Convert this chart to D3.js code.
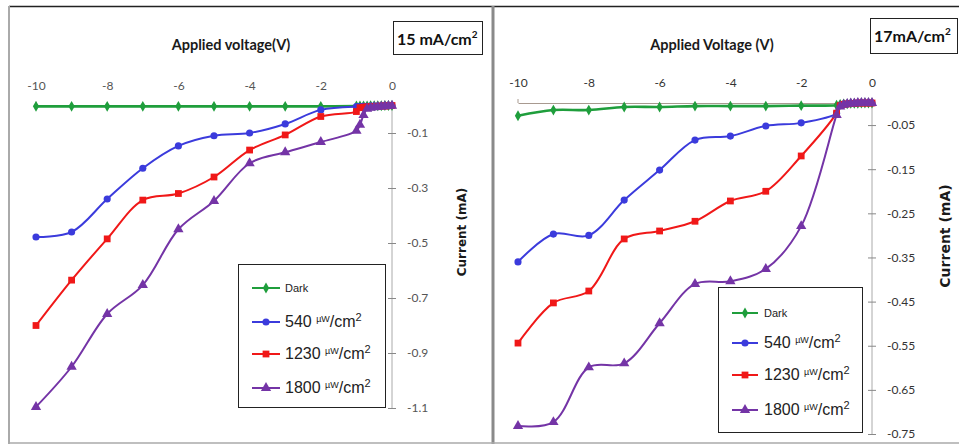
<!DOCTYPE html>
<html><head><meta charset="utf-8">
<script src="https://cdn.jsdelivr.net/npm/d3@7"></script>
<style>body{margin:0;background:#fff} svg{display:block}</style>
</head><body><svg id="c" width="959" height="444"></svg>
<script>
// ---------- data ----------
const voltage = [-10,-9,-8,-7,-6,-5,-4,-3,-2,-1,-0.9,-0.8,-0.7,-0.6,-0.5,-0.4,-0.3,-0.2,-0.1,0];
const seriesNames = ["Dark","540","1230","1800"];
const xTicks = [-10,-8,-6,-4,-2,0];

// panel A : 15 mA/cm2
const darkA   = [-0.003,-0.003,-0.003,-0.003,-0.003,-0.003,-0.003,-0.003,-0.003,-0.002,-0.002,-0.002,-0.002,-0.001,-0.001,-0.001,-0.001,0,0,0];
const p540A   = [-0.478,-0.46,-0.34,-0.228,-0.147,-0.11,-0.10,-0.067,-0.016,-0.004,-0.004,-0.003,-0.003,-0.002,-0.002,-0.002,-0.001,-0.001,0,0];
const p1230A  = [-0.80,-0.635,-0.485,-0.344,-0.32,-0.26,-0.162,-0.107,-0.04,-0.022,-0.008,-0.006,-0.005,-0.004,-0.004,-0.003,-0.002,-0.002,-0.001,0];
const p1800A  = [-1.096,-0.95,-0.758,-0.653,-0.45,-0.347,-0.21,-0.17,-0.133,-0.092,-0.07,-0.035,-0.012,-0.008,-0.006,-0.005,-0.004,-0.003,-0.002,-0.001];
const yTicksA = [-0.1,-0.3,-0.5,-0.7,-0.9,-1.1];

// panel B : 17 mA/cm2
const darkB   = [-0.029,-0.016,-0.016,-0.009,-0.009,-0.007,-0.007,-0.007,-0.006,-0.005,-0.003,-0.002,-0.002,-0.001,-0.001,-0.001,0,0,0,0];
const p540B   = [-0.36,-0.297,-0.30,-0.22,-0.152,-0.084,-0.075,-0.052,-0.045,-0.023,-0.006,-0.003,-0.002,-0.001,-0.001,0,0,0,0,0];
const p1230B  = [-0.544,-0.453,-0.426,-0.308,-0.29,-0.268,-0.222,-0.20,-0.12,-0.023,-0.006,-0.003,-0.002,-0.001,-0.001,0,0,0,0,0];
const p1800B  = [-0.732,-0.723,-0.599,-0.59,-0.499,-0.41,-0.404,-0.376,-0.279,-0.027,-0.008,-0.004,-0.002,-0.001,-0.001,0,0,0,0,0];
const yTicksB = [-0.05,-0.15,-0.25,-0.35,-0.45,-0.55,-0.65,-0.75];

const panelLabels = ["15 mA/cm", "17mA/cm"];
const xTitles = ["Applied voltage(V)", "Applied Voltage (V)"];
const yTitle = "Current (mA)";

// ---------- styling ----------
const colors = ["#1f9e3c", "#3b3bdc", "#f01818", "#7434a6"];
const symbols = [d3.symbolDiamond, d3.symbolCircle, d3.symbolSquare, d3.symbolTriangle];
const symSizes = [34, 40, 46, 46];
const loc = d3.formatLocale({decimal:".", thousands:",", grouping:[3], currency:["",""], minus:"-"});

const svg = d3.select("#c");

// frame
svg.append("line").attr("x1",9).attr("x2",959).attr("y1",6.5).attr("y2",6.5).attr("stroke","#222").attr("stroke-width",1.5);
svg.append("line").attr("x1",9).attr("x2",9).attr("y1",6).attr("y2",444).attr("stroke","#aaa").attr("stroke-width",2);
svg.append("line").attr("x1",493).attr("x2",493).attr("y1",6).attr("y2",444).attr("stroke","#8a8a8a").attr("stroke-width",3);
svg.append("line").attr("x1",9).attr("x2",959).attr("y1",443).attr("y2",443).attr("stroke","#aaa").attr("stroke-width",1.5);

const panels = [
  {series:[darkA,p540A,p1230A,p1800A], yTicks:yTicksA, yDom:[0,-1.1], xr:[36,392], yr:[105.5,408],
   fmt:loc.format(".1f"), tickColor:"#555",
   label:panelLabels[0], box:[393,21,89,33], labelX:397, labelY:45,
   xTitle:xTitles[0], xTitleX:231, xTitleY:50, yTitleX:466, yTitleY:232, yTitleSize:12,
   legend:[238,264,147,143], legLine:[252,280], legTextX:285, legY:[288,322,354,388]},
  {series:[darkB,p540B,p1230B,p1800B], yTicks:yTicksB, yDom:[0,-0.75], xr:[518,872], yr:[103,434],
   fmt:loc.format(".2f"), tickColor:"#333",
   label:panelLabels[1], box:[870,18,87,35], labelX:874, labelY:42,
   xTitle:xTitles[1], xTitleX:712, xTitleY:50, yTitleX:950, yTitleY:236, yTitleSize:14,
   legend:[718,287,144,145], legLine:[732,758], legTextX:764, legY:[313,343,375,410]}
];

panels.forEach(p => {
  const g = svg.append("g");
  const x = d3.scaleLinear().domain([-10,0]).range(p.xr);
  const y = d3.scaleLinear().domain(p.yDom).range(p.yr);

  // x axis (top)
  const xa = g.append("g").attr("transform",`translate(0,${y(0)})`)
    .call(d3.axisTop(x).tickValues(xTicks).tickSize(0).tickPadding(16).tickFormat(loc.format("d")));
  xa.select(".domain").attr("stroke","#a89a90").attr("stroke-width",1);
  xa.selectAll("text").attr("font-family","Lato, 'Open Sans', sans-serif").attr("font-size",12).attr("fill",p.tickColor);
  g.append("line").attr("x1",p.xr[0]).attr("x2",p.xr[0]).attr("y1",y(0)-4).attr("y2",y(0)).attr("stroke","#a89a90");

  // y axis (right, at x=0)
  const ya = g.append("g").attr("transform",`translate(${x(0)},0)`)
    .call(d3.axisRight(y).tickValues(p.yTicks).tickSize(4).tickPadding(11).tickFormat(p.fmt));
  ya.select(".domain").attr("stroke","#aaa").attr("d",`M0,${y(0)}V${p.yr[1]}`);
  ya.selectAll(".tick line").attr("x1",-4).attr("stroke","#888");
  ya.selectAll("text").attr("font-family","Lato, 'Open Sans', sans-serif").attr("font-size",12).attr("fill",p.tickColor);

  // series
  p.series.forEach((vals,i) => {
    const pts = voltage.map((v,k)=>[v, vals[k]]);
    g.append("path").datum(pts)
      .attr("fill","none").attr("stroke",colors[i]).attr("stroke-width", i===0?2.6:2)
      .attr("d", d3.line().x(d=>x(d[0])).y(d=>y(d[1])).curve(d3.curveCatmullRom.alpha(0.5)));
    g.selectAll(null).data(pts).enter().append("path")
      .attr("transform",d=>`translate(${x(d[0])},${y(d[1])})`)
      .attr("d", d3.symbol().type(symbols[i]).size(symSizes[i]))
      .attr("fill",colors[i]);
  });

  // x title
  g.append("text").attr("x",p.xTitleX).attr("y",p.xTitleY).attr("text-anchor","middle")
    .attr("font-family","Lato, sans-serif").attr("font-weight","bold").attr("font-size",14.5).attr("fill","#1a1a1a")
    .text(p.xTitle);
  // y title
  g.append("text").attr("transform",`translate(${p.yTitleX},${p.yTitleY}) rotate(-90)`).attr("text-anchor","middle")
    .attr("font-family","'DejaVu Sans', Verdana, sans-serif").attr("font-weight","bold").attr("font-size",p.yTitleSize).attr("fill","#1a1a1a")
    .text(yTitle);

  // label box
  g.append("rect").attr("x",p.box[0]+0.5).attr("y",p.box[1]+0.5).attr("width",p.box[2]).attr("height",p.box[3])
    .attr("fill","#fff").attr("stroke","#222").attr("stroke-width",1);
  const lt = g.append("text").attr("x",p.labelX).attr("y",p.labelY)
    .attr("font-family","Lato, sans-serif").attr("font-weight","bold").attr("font-size",16).attr("fill","#111");
  lt.append("tspan").text(p.label);
  lt.append("tspan").attr("dy",-7).attr("font-size",10).text("2");

  // legend
  g.append("rect").attr("x",p.legend[0]+0.5).attr("y",p.legend[1]+0.5).attr("width",p.legend[2]).attr("height",p.legend[3])
    .attr("fill","#fff").attr("stroke","#222").attr("stroke-width",1);
  seriesNames.forEach((name,i) => {
    const ly = p.legY[i];
    g.append("line").attr("x1",p.legLine[0]).attr("x2",p.legLine[1]).attr("y1",ly).attr("y2",ly)
      .attr("stroke",colors[i]).attr("stroke-width",2);
    g.append("path").attr("transform",`translate(${(p.legLine[0]+p.legLine[1])/2},${ly})`)
      .attr("d", d3.symbol().type(symbols[i]).size(symSizes[i])).attr("fill",colors[i]);
    const t = g.append("text").attr("x",p.legTextX).attr("fill","#222")
      .attr("font-family","'Liberation Sans Narrow', 'Arial Narrow', 'Liberation Sans', sans-serif");
    if (name === "Dark") {
      t.attr("y",ly+4).attr("font-size",11).text(name);
    } else {
      t.attr("y",ly+5).attr("font-size",16);
      t.append("tspan").text(name + " ");
      t.append("tspan").attr("font-size",9).attr("dy",-5).text("\u00b5W");
      t.append("tspan").attr("dy",5).text("/cm");
      t.append("tspan").attr("font-size",11).attr("dy",-6).text("2");
    }
  });
});
</script>
</body></html>
